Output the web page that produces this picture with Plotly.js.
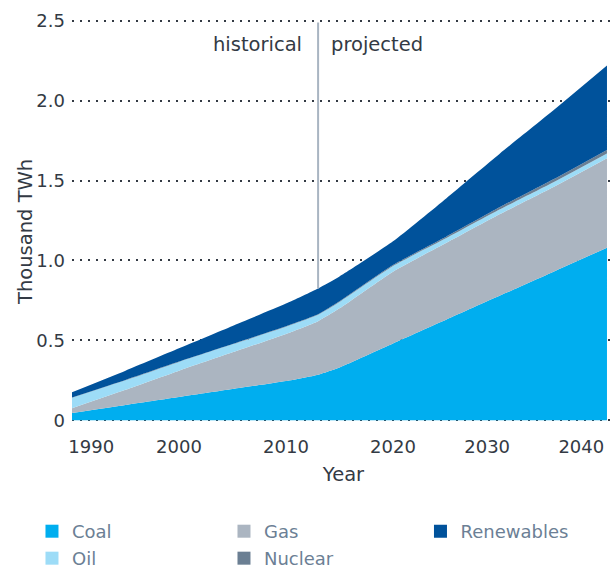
<!DOCTYPE html>
<html>
<head>
<meta charset="utf-8">
<script src="https://cdn.plot.ly/plotly-3.0.1.min.js"></script>
<style>html,body{margin:0;padding:0;background:#fff;}#chart{width:615px;height:569px;}</style>
</head>
<body>
<div id="chart"></div>
<script>
// ---- data (thousand TWh) ----
var years      = [1990, 1995, 2000, 2005, 2010, 2013, 2015, 2020, 2025, 2030, 2035, 2040];
var coal       = [0.045, 0.095, 0.145, 0.195, 0.245, 0.285, 0.330, 0.480, 0.630, 0.780, 0.930, 1.080];
var gas        = [0.030, 0.095, 0.165, 0.230, 0.295, 0.335, 0.370, 0.450, 0.480, 0.510, 0.530, 0.560];
var oil        = [0.065, 0.060, 0.055, 0.050, 0.045, 0.040, 0.040, 0.035, 0.030, 0.030, 0.030, 0.030];
var nuclear    = [0.002, 0.002, 0.002, 0.002, 0.003, 0.003, 0.004, 0.006, 0.010, 0.014, 0.018, 0.022];
var renewables = [0.033, 0.058, 0.083, 0.113, 0.142, 0.162, 0.156, 0.149, 0.240, 0.336, 0.432, 0.528];
var seriesNames = ['Coal', 'Gas', 'Oil', 'Nuclear', 'Renewables'];
var xTickLabels = ['1990', '2000', '2010', '2020', '2030', '2040'];
var yTickVals   = [0, 0.5, 1.0, 1.5, 2.0, 2.5];
var yTickLabels = ['0', '0.5', '1.0', '1.5', '2.0', '2.5'];
var splitYear = 2013;

// ---- styling ----
var colors = {Coal:'#00aeef', Gas:'#abb5c1', Oil:'#9ddcf7', Nuclear:'#6b7f93', Renewables:'#00529b'};
var FONT = 'DejaVu Sans';
var values = {Coal:coal, Gas:gas, Oil:oil, Nuclear:nuclear, Renewables:renewables};
// one single-item legend per entry so the grid (Coal Gas Renewables / Oil Nuclear) is exact
var legendId  = {Coal:'legend', Gas:'legend2', Renewables:'legend3', Oil:'legend4', Nuclear:'legend5'};
var legendPos = {  // container fractions
  legend:  {x: 0.052,  y: 0.0659},
  legend2: {x: 0.3642, y: 0.0659},
  legend3: {x: 0.6837, y: 0.0659},
  legend4: {x: 0.052,  y: 0.0185},
  legend5: {x: 0.3642, y: 0.0185}
};
// x tick label display offsets (years) so end labels stay inside the figure
var xTickOffsets = [1.8, 0, 0, 0, -1.2, -2.4];

var traces = [];
seriesNames.forEach(function(n){
  traces.push({
    x: years, y: values[n], name: n, type: 'scatter', mode: 'lines',
    stackgroup: 'one', fillcolor: colors[n],
    line: {width: 0, shape: 'spline', smoothing: 0.5, color: colors[n]},
    showlegend: false, hoverinfo: 'x+y+name'
  });
});
seriesNames.forEach(function(n){
  traces.push({
    x: [null], y: [null], name: n, type: 'scatter', mode: 'markers',
    marker: {symbol: 'square', size: 13, color: colors[n]},
    legend: legendId[n], showlegend: true
  });
});

var splitIdx = years.indexOf(splitYear);
var splitTop = seriesNames.reduce(function(s, n){ return s + values[n][splitIdx]; }, 0);

var layout = {
  width: 615, height: 569,
  margin: {l: 72, r: 0, t: 16, b: 144, autoexpand: false},
  paper_bgcolor: '#ffffff', plot_bgcolor: '#ffffff',
  font: {family: FONT, size: 18, color: '#333a44'},
  showlegend: true,
  xaxis: {
    range: [1990, 2040.75], showgrid: false, zeroline: false, showline: false,
    ticks: '', tickvals: years.filter(function(y){return y % 10 === 0;}).map(function(y, i){ return y + xTickOffsets[i]; }),
    ticktext: xTickLabels, ticklabelstandoff: 9,
    tickfont: {family: FONT, size: 18, color: '#333a44'},
    title: {text: 'Year', font: {family: FONT, size: 19.5, color: '#333a44'}, standoff: 11},
    fixedrange: true
  },
  yaxis: {
    range: [-0.03, 2.53], tickvals: yTickVals, ticktext: yTickLabels,
    showgrid: true, gridcolor: '#333a44', gridwidth: 2, griddash: '2px,6px',
    zeroline: false, showline: false, ticks: '', ticklabelstandoff: 6,
    tickfont: {family: FONT, size: 18, color: '#333a44'},
    fixedrange: true
  },
  shapes: [{
    type: 'line', xref: 'x', yref: 'y', x0: splitYear, x1: splitYear,
    y0: splitTop, y1: 2.49, line: {color: '#a9b5c2', width: 2}, layer: 'above'
  }],
  annotations: [
    {xref: 'x', yref: 'y', x: splitYear, y: 2.35, text: 'historical', showarrow: false,
     xanchor: 'right', xshift: -14, font: {family: FONT, size: 19.5, color: '#333a44'}},
    {xref: 'x', yref: 'y', x: splitYear, y: 2.35, text: 'projected', showarrow: false,
     xanchor: 'left', xshift: 11, font: {family: FONT, size: 19.5, color: '#333a44'}},
    {xref: 'paper', yref: 'paper', x: -0.0866, y: 0.4713, text: 'Thousand TWh', showarrow: false,
     textangle: -90, xanchor: 'center', yanchor: 'middle', font: {family: FONT, size: 19.5, color: '#333a44'}}
  ]
};
// y title annotation paper position depends on plot height
layout.annotations[2].y = (569 - 144 - 232) / (569 - 144 - 16);

Object.keys(legendPos).forEach(function(k){
  layout[k] = {
    orientation: 'h', xref: 'container', yref: 'container',
    x: legendPos[k].x, y: legendPos[k].y, xanchor: 'left', yanchor: 'middle',
    font: {family: FONT, size: 18, color: '#6c7f95'},
    bgcolor: 'rgba(0,0,0,0)', itemclick: false
  };
});

Plotly.newPlot('chart', traces, layout, {displayModeBar: false, staticPlot: true});
</script>
</body>
</html>
